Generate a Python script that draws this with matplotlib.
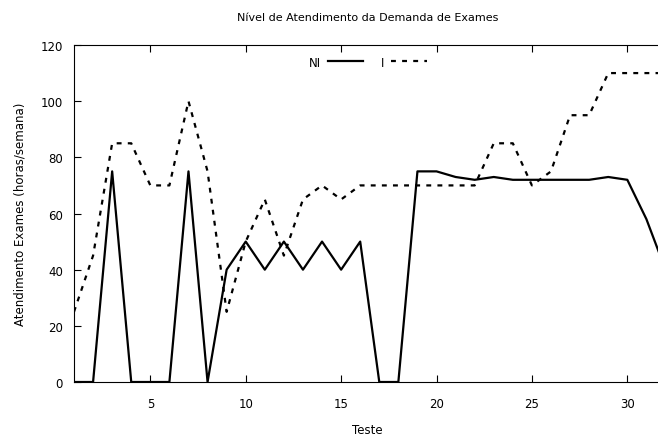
import matplotlib
matplotlib.use("Agg")
import matplotlib.pyplot as plt

# dados
teste = list(range(1, 33))
ni = [0, 0, 75, 0, 0, 0, 75, 0, 40, 50, 40, 50, 40, 50, 40, 50,
      0, 0, 75, 75, 73, 72, 73, 72, 72, 72, 72, 72, 73, 72, 58, 40]
i_vals = [25, 45, 85, 85, 70, 70, 100, 75, 25, 50, 65, 45, 65, 70, 65, 70,
          70, 70, 70, 70, 70, 70, 85, 85, 70, 75, 95, 95, 110, 110, 110, 110]

W, H = 658, 439
fig = plt.figure(figsize=(W / 100, H / 100), dpi=100)
left, right, top, bottom = 74, 661, 46, 383
ax = fig.add_axes([left / W, 1 - bottom / H, (right - left) / W, (bottom - top) / H])

ax.plot(teste, ni, '-', color='black', lw=1.6, label='NI')
ax.plot(teste, i_vals, color='black', lw=1.6, linestyle=(0, (2.2, 2.8)), label='I')

ax.set_xlim(1, 1 + (right - left) / 19.08)
ax.set_ylim(0, 120)
ax.set_xticks([5, 10, 15, 20, 25, 30])
ax.set_yticks([0, 20, 40, 60, 80, 100, 120])
ax.tick_params(direction='in', top=True, right=False, length=5, labelsize=8.5)
ax.tick_params(axis='x', pad=11)
ax.tick_params(axis='y', pad=8)
ax.spines['right'].set_visible(False)

ax.set_title('Nível de Atendimento da Demanda de Exames', fontsize=8, pad=18)
ax.set_xlabel('Teste', fontsize=8.5, labelpad=9)
ax.set_ylabel('Atendimento Exames (horas/semana)', fontsize=8.5, labelpad=10)

ax.legend(loc='upper center', bbox_to_anchor=(0.5, 1.0), ncol=2, frameon=False,
          markerfirst=False, fontsize=8.5, handlelength=3, columnspacing=1.5,
          handletextpad=0.6)

fig.savefig('out.png', dpi=100)
